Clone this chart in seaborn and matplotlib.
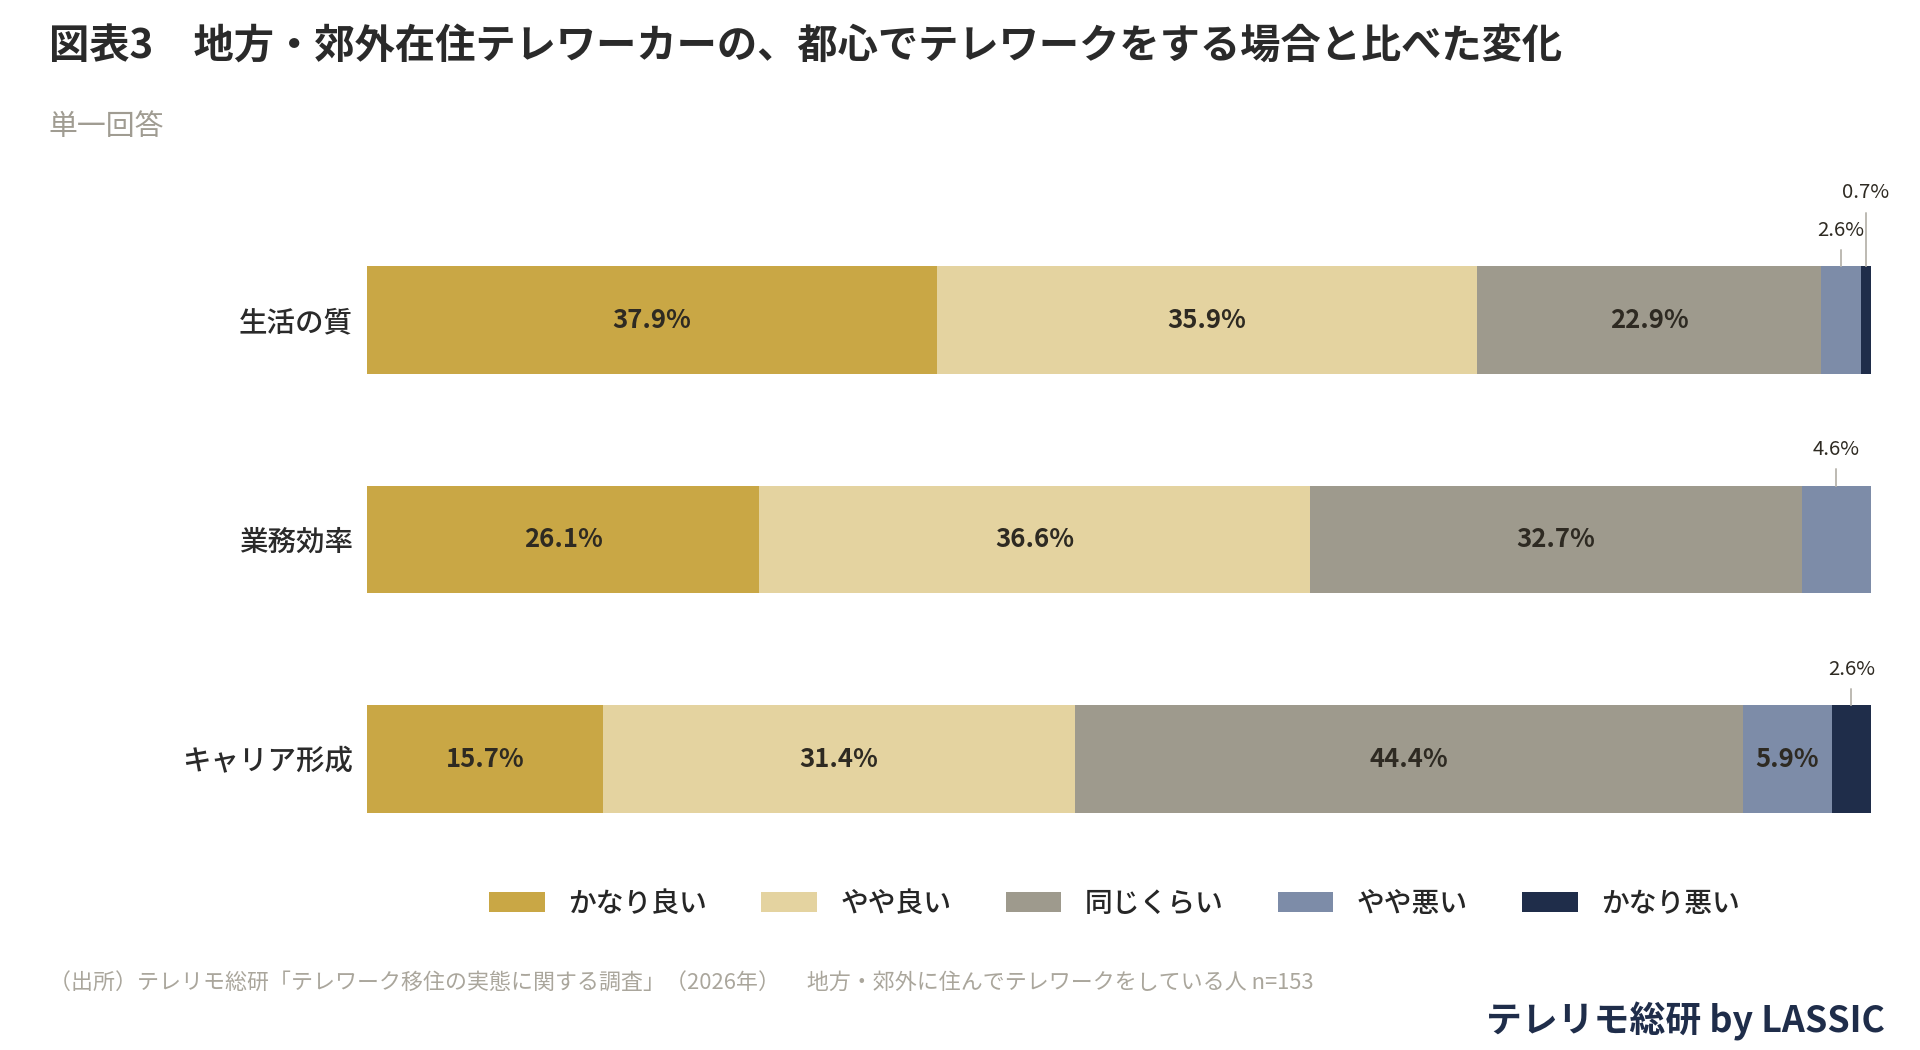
import matplotlib
matplotlib.use("Agg")
from matplotlib import pyplot as plt
from matplotlib.patches import Patch
import numpy as np
import pandas as pd
import seaborn as sns

# data (percent)
items = ["生活の質", "業務効率", "キャリア形成"]
levels = ["かなり良い", "やや良い", "同じくらい", "やや悪い", "かなり悪い"]
good_lot = [37.9, 26.1, 15.7]
good_bit = [35.9, 36.6, 31.4]
same = [22.9, 32.7, 44.4]
bad_bit = [2.6, 4.6, 5.9]
bad_lot = [0.7, 0.0, 2.6]

colors = ["#c9a745", "#e4d3a0", "#9e9a8d", "#7d8ca8", "#1f2d4a"]

sns.set_theme(style="white")
plt.rcParams['font.family'] = ['Noto Sans CJK JP', 'DejaVu Sans']

df = pd.DataFrame({"item": items})
for lv, vals in zip(levels, [good_lot, good_bit, same, bad_bit, bad_lot]):
    df[lv] = vals
cum = df[levels].cumsum(axis=1)

fig = plt.figure(figsize=(19.2, 10.5), dpi=100)
ax = fig.add_axes([0.1911, 0.2039, 0.7834, 0.5644])

# stacked bars: draw cumulative totals from the right end backwards
for lv, col in reversed(list(zip(levels, colors))):
    sns.barplot(x=cum[lv], y=df["item"], color=col, width=0.49,
                saturation=1, orient="h", ax=ax, linewidth=0)

ax.set_xlim(0, 100)
ax.set_ylim(2.35, -0.35)
ax.set_xlabel("")
ax.set_ylabel("")
ax.set_xticks([])
ax.tick_params(axis="y", length=0, pad=10)
for lab in ax.get_yticklabels():
    lab.set_fontsize(20.5)
    lab.set_fontweight("medium")
    lab.set_color("#2a2a2a")
sns.despine(ax=ax, left=True, bottom=True)

# value labels
half = 0.245
for i in range(len(items)):
    small_rank = 0
    for j, lv in enumerate(levels):
        v = df.loc[i, lv]
        if v <= 0:
            continue
        xc = cum.loc[i, lv] - v / 2
        if v >= 5:
            ax.text(xc, i, f"{v:.1f}%", ha="center", va="center",
                    fontsize=18.5, fontweight="bold", color="#2e2a22")
        else:
            top = i - half
            lift = 0.165 + small_rank * 0.17
            ax.plot([xc, xc], [top, top - lift + 0.09], color="#bdbab2",
                    lw=1.4, clip_on=False)
            ax.text(xc, top - lift, f"{v:.1f}%", ha="center", va="center",
                    fontsize=14.7, color="#2e2a22", clip_on=False)
            small_rank += 1

# legend
handles = [Patch(facecolor=c, edgecolor="none") for c in colors]
fig.legend(handles, levels, loc="center", bbox_to_anchor=(0.5805, 0.14),
           ncol=5, frameon=False, handlelength=2.0,
           handleheight=0.72, handletextpad=0.85, columnspacing=1.95,
           prop={"size": 20, "weight": "medium"})

# titles and notes
fig.text(0.0255, 0.955, "図表3　地方・郊外在住テレワーカーの、都心でテレワークをする場合と比べた変化",
         fontsize=29, fontweight="bold", color="#2a2a2a", va="center", ha="left")
fig.text(0.0255, 0.879, "単一回答", fontsize=20.8, color="#a09c92",
         va="center", ha="left")
fig.text(0.0255, 0.064,
         "（出所）テレリモ総研「テレワーク移住の実態に関する調査」（2026年）　 地方・郊外に住んでテレワークをしている人 n=153",
         fontsize=15.8, color="#aaa69c", va="center", ha="left")
fig.text(0.9815, 0.027, "テレリモ総研 by LASSIC", fontsize=25.8, fontweight="bold",
         color="#1f2d4a", va="center", ha="right")

fig.savefig("out.png", dpi=100, facecolor="white")
